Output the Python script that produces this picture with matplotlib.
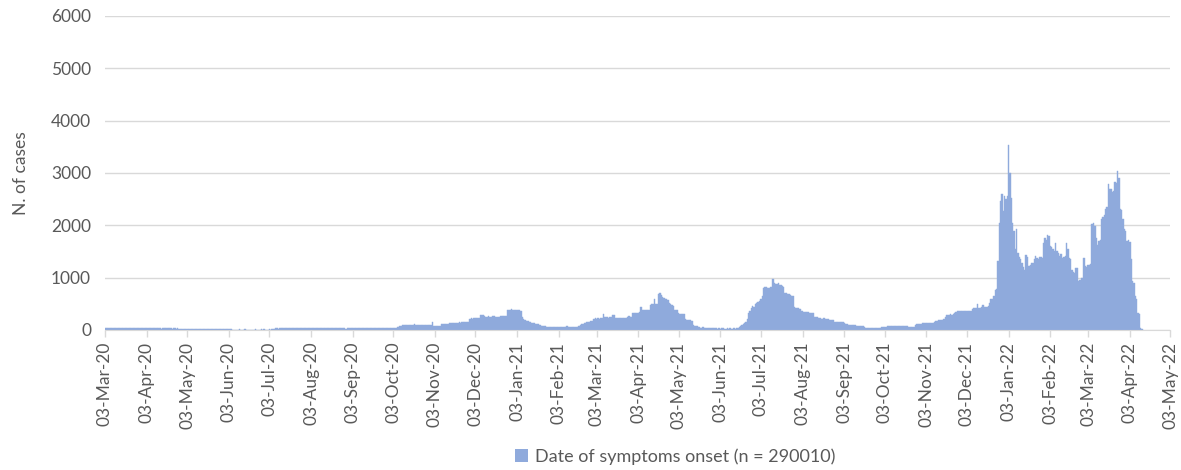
"""Casos diários por data de início dos sintomas (mar/2020 - abr/2022)."""
import numpy as np
import pandas as pd
import matplotlib
matplotlib.use("Agg")
import matplotlib.pyplot as plt
import matplotlib.dates as mdates
from matplotlib.patches import Patch

# valores diários, um array por mês (primeiro dia de cada lista)
mar20 = [28, 32, 35, 30, 33, 36, 31, 29, 34, 37, 33, 30, 35, 32, 29, 33, 36, 31, 34, 30,
         28, 33, 35, 31, 29, 32, 34, 30, 31]
apr20 = [30, 33, 29, 31, 35, 32, 28, 30, 34, 31, 29, 33, 30, 27, 31, 34, 30, 28, 32, 29,
         31, 27, 30, 28, 26, 29, 25, 27, 24, 22]
may20 = [22, 20, 24, 18, 21, 19, 23, 17, 20, 22, 18, 16, 21, 19, 15, 18, 20, 14, 17, 19,
         15, 13, 18, 16, 12, 17, 14, 11, 15, 13, 10]
jun20 = [14, 12, 9, 13, 11, 6, 4, 8, 3, 5, 10, 2, 6, 4, 9, 3, 1, 7, 5, 2,
         8, 4, 10, 3, 6, 2, 9, 5, 11, 4]
jul20 = [6, 3, 10, 8, 14, 20, 25, 28, 30, 27, 31, 29, 33, 30, 28, 32, 29, 31, 34, 30,
         28, 33, 31, 29, 32, 35, 30, 28, 31, 33, 29]
aug20 = [31, 34, 30, 32, 35, 29, 33, 31, 28, 34, 32, 30, 35, 31, 29, 33, 36, 30, 32, 34,
         31, 29, 33, 30, 35, 32, 28, 31, 12, 30, 33]
sep20 = [32, 35, 31, 34, 30, 33, 36, 32, 29, 34, 31, 35, 33, 30, 34, 32, 36, 31, 33, 35,
         30, 34, 32, 37, 33, 31, 35, 34, 36, 33]
oct20 = [35, 38, 36, 40, 45, 52, 60, 68, 78, 88, 95, 98, 100, 96, 102, 98, 95, 100, 104, 97,
         101, 99, 95, 103, 98, 100, 96, 102, 99, 97, 101]
nov20 = [150, 80, 76, 78, 74, 79, 77, 112, 118, 114, 116, 120, 117, 130, 132, 128, 135, 138, 134, 140,
         143, 139, 146, 150, 147, 152, 155, 158, 215, 222]
dec20 = [218, 225, 220, 224, 219, 223, 288, 292, 285, 258, 252, 256, 260, 250, 254, 262, 257, 251, 255, 248,
         253, 259, 262, 265, 270, 268, 375, 385, 390, 392, 388]
jan21 = [385, 390, 382, 378, 375, 370, 250, 200, 185, 175, 168, 160, 150, 142, 135, 128, 120, 115, 108, 100,
         80, 72, 68, 66, 64, 62, 65, 60, 63, 58, 61]
feb21 = [55, 52, 58, 54, 50, 53, 56, 51, 70, 54, 52, 55, 50, 53, 57, 52, 55, 72, 95, 105,
         115, 125, 135, 145, 150, 158, 165, 175]
mar21 = [210, 220, 215, 225, 218, 222, 228, 300, 240, 238, 245, 236, 242, 239, 280, 282, 232, 228, 235, 226,
         230, 233, 229, 231, 227, 255, 258, 252, 256, 330, 328]
apr21 = [332, 326, 330, 335, 430, 382, 378, 385, 376, 380, 383, 480, 492, 488, 590, 495, 500, 680, 705, 660,
         630, 615, 600, 590, 575, 520, 505, 480, 455, 385]
may21 = [380, 375, 315, 310, 305, 312, 300, 200, 192, 188, 185, 190, 180, 90, 82, 78, 75, 48, 46, 44,
         47, 45, 43, 46, 42, 44, 45, 41, 40, 30, 28]
jun21 = [27, 29, 26, 28, 30, 25, 27, 29, 26, 28, 24, 27, 30, 26, 28, 29, 60, 75, 95, 115,
         140, 160, 200, 320, 360, 410, 450, 440, 505, 515]
jul21 = [530, 560, 600, 640, 800, 815, 820, 805, 810, 818, 825, 975, 900, 880, 870, 895, 860, 850, 840, 830,
         710, 700, 690, 680, 665, 650, 640, 430, 425, 420, 410]
aug21 = [400, 360, 355, 350, 345, 352, 348, 325, 320, 318, 322, 255, 250, 248, 225, 220, 215, 210, 222, 205,
         200, 212, 198, 195, 190, 192, 155, 150, 152, 148, 150]
sep21 = [150, 146, 140, 110, 105, 100, 98, 95, 92, 90, 85, 82, 80, 75, 72, 70, 66, 62, 40, 35,
         32, 30, 34, 28, 31, 29, 33, 30, 36, 45]
oct21 = [55, 60, 65, 62, 68, 70, 66, 72, 75, 70, 74, 78, 72, 76, 80, 74, 78, 82, 76, 80,
         62, 58, 60, 63, 59, 95, 105, 112, 118, 122, 126]
nov21 = [128, 133, 130, 135, 127, 132, 138, 134, 150, 165, 180, 195, 188, 192, 198, 210, 250, 280, 295, 285,
         300, 292, 310, 330, 345, 355, 365, 358, 362, 370]
dec21 = [360, 355, 365, 368, 358, 362, 400, 410, 415, 425, 490, 418, 422, 430, 480, 440, 435, 445, 460, 520,
         590, 600, 640, 770, 780, 1310, 2050, 2470, 2600, 2280, 2560]
jan22 = [2500, 2560, 3540, 3000, 2530, 2050, 1890, 1540, 1920, 1470, 1400, 1350, 1280, 1200, 1150, 1440, 1400,
         1220, 1250, 1280, 1280, 1350, 1410, 1380, 1360, 1390, 1400, 1380, 1670, 1760, 1720]
feb22 = [1810, 1800, 1600, 1580, 1550, 1500, 1670, 1500, 1470, 1410, 1450, 1380, 1400, 1420, 1670, 1550,
         1380, 1350, 1150, 1100, 1090, 1190, 1180, 930, 950, 990, 990, 1380]
mar22 = [1220, 1200, 1250, 1250, 1260, 2020, 2050, 1990, 1760, 1630, 1700, 1710, 2115, 2150, 2200, 2310,
         2350, 2790, 2700, 2690, 2630, 2650, 2820, 2800, 3045, 2900, 2310, 2300, 2115, 1920, 1900]
apr22 = [1700, 1720, 1690, 1350, 930, 900, 640, 600, 320, 300, 40, 15]

months = [("2020-03-03", mar20), ("2020-04-01", apr20), ("2020-05-01", may20), ("2020-06-01", jun20),
          ("2020-07-01", jul20), ("2020-08-01", aug20), ("2020-09-01", sep20), ("2020-10-01", oct20),
          ("2020-11-01", nov20), ("2020-12-01", dec20), ("2021-01-01", jan21), ("2021-02-01", feb21),
          ("2021-03-01", mar21), ("2021-04-01", apr21), ("2021-05-01", may21), ("2021-06-01", jun21),
          ("2021-07-01", jul21), ("2021-08-01", aug21), ("2021-09-01", sep21), ("2021-10-01", oct21),
          ("2021-11-01", nov21), ("2021-12-01", dec21), ("2022-01-01", jan22), ("2022-02-01", feb22),
          ("2022-03-01", mar22), ("2022-04-01", apr22)]

LABEL = "Date of symptoms onset (n = 290010)"
BAR = "#8faadc"
TXT = "#595959"
GRID = "#d9d9d9"


def main():
    dates = pd.DatetimeIndex(np.concatenate(
        [pd.date_range(start, periods=len(vals), freq="D").values for start, vals in months]))
    cases = np.concatenate([np.asarray(vals, dtype=float) for _, vals in months])

    plt.rcParams["font.family"] = ["Lato", "DejaVu Sans"]
    fig = plt.figure(figsize=(11.81, 4.70), dpi=100)
    ax = fig.add_axes([0.0889, 0.298, 0.902, 0.668])

    ax.bar(dates, cases, width=1.0, color=BAR, edgecolor=BAR, linewidth=0.3, zorder=2)

    ax.set_ylim(0, 6000)
    ax.set_yticks(range(0, 6001, 1000))
    ax.set_xlim(pd.Timestamp("2020-03-03"), pd.Timestamp("2022-05-03"))
    ax.xaxis.set_major_locator(mdates.MonthLocator(bymonthday=3))
    ax.xaxis.set_major_formatter(mdates.DateFormatter("%d-%b-%y"))
    ax.tick_params(axis="x", rotation=90, labelsize=12.5, colors=TXT, color=GRID, length=5, width=1)
    ax.tick_params(axis="y", labelsize=12.5, colors=TXT, length=0, pad=10)

    ax.grid(axis="y", color=GRID, linewidth=1, zorder=0)
    for s in ("top", "right", "left"):
        ax.spines[s].set_visible(False)
    ax.spines["bottom"].set_color(GRID)
    ax.spines["bottom"].set_zorder(3)
    ax.set_ylabel("N. of cases", fontsize=12.5, color=TXT, labelpad=16)

    fig.legend(handles=[Patch(facecolor=BAR, edgecolor="none", label=LABEL)],
               loc="center", bbox_to_anchor=(0.572, 0.028), frameon=False, fontsize=13,
               labelcolor=TXT, handlelength=0.7, handleheight=0.7, handletextpad=0.4)

    fig.savefig("out.png", dpi=100)
    plt.close(fig)


if __name__ == "__main__":
    main()
